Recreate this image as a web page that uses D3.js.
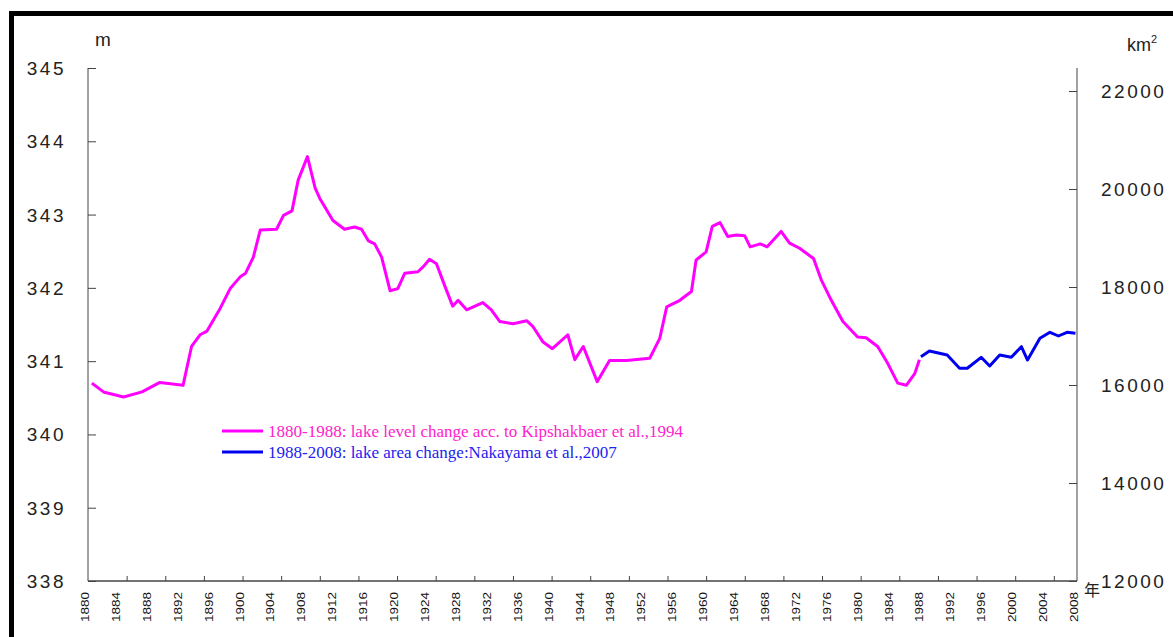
<!DOCTYPE html>
<html>
<head>
<meta charset="utf-8">
<script src="https://cdn.jsdelivr.net/npm/d3@7"></script>
<style>
  body { margin: 0; background: #fff; }
  text { font-family: "Liberation Sans", Arial, sans-serif; }
</style>
</head>
<body>
<div id="chart"></div>
<script>
// lake level (m)
const levelYears = [1880.5, 1882, 1884.6, 1887, 1889.3, 1892.3, 1893.4, 1894.5, 1895.4, 1897.1, 1898.4,
  1899.7, 1900.4, 1901.4, 1902.3, 1904.4, 1905.3, 1906.4, 1907.2, 1908.4, 1909.4, 1910, 1911.7,
  1913.2, 1914.5, 1915.4, 1916.3, 1917.1, 1918, 1919.1, 1920.1, 1921, 1922.7, 1923.4, 1924.2,
  1925.1, 1926.2, 1927.2, 1927.9, 1929, 1931.1, 1932.2, 1933.3, 1935, 1936.8, 1937.6, 1938.9,
  1940.1, 1942.1, 1943, 1944.1, 1945.9, 1947.5, 1949.7, 1952.7, 1954, 1954.9, 1956.6, 1958.1,
  1958.7, 1960, 1960.8, 1961.8, 1962.8, 1963.9, 1965, 1965.7, 1967, 1967.9, 1969.7, 1970.8,
  1972.1, 1973.9, 1974.9, 1976.2, 1977.7, 1979.6, 1980.7, 1982.2, 1983.5, 1984.8, 1985.9,
  1987, 1987.6];
const levelValues = [340.70, 340.58, 340.51, 340.58, 340.71, 340.67, 341.20, 341.36, 341.41, 341.72, 341.99,
  342.15, 342.20, 342.42, 342.79, 342.80, 342.99, 343.05, 343.47, 343.79, 343.36, 343.22, 342.92,
  342.80, 342.83, 342.80, 342.64, 342.60, 342.42, 341.96, 341.99, 342.20, 342.22, 342.29, 342.39,
  342.33, 342.02, 341.75, 341.83, 341.70, 341.80, 341.70, 341.54, 341.51, 341.55, 341.47, 341.26,
  341.17, 341.36, 341.02, 341.20, 340.72, 341.01, 341.01, 341.04, 341.31, 341.74, 341.83, 341.95,
  342.38, 342.49, 342.84, 342.89, 342.70, 342.72, 342.71, 342.56, 342.60, 342.56, 342.77, 342.61,
  342.54, 342.40, 342.11, 341.83, 341.54, 341.33, 341.32, 341.20, 340.97, 340.70, 340.67,
  340.83, 341.02];

// lake area (km2)
const areaYears = [1987.8, 1988.9, 1991.2, 1992.8, 1993.8, 1995.6, 1996.7, 1998, 1999.5, 2000.8,
  2001.6, 2003.2, 2004.5, 2005.6, 2006.7, 2007.8];
const areaValues = [16578, 16694, 16612, 16341, 16341, 16565, 16388, 16612, 16565, 16782,
  16510, 16953, 17076, 17000, 17076, 17055];

const leftTicks = [338, 339, 340, 341, 342, 343, 344, 345];
const rightTicks = [12000, 14000, 16000, 18000, 20000, 22000];
const yearLabels = d3.range(1880, 2009, 4);
const yearTicks = d3.range(1885, 2008, 5);

const legendItems = [
  { label: "1880-1988: lake level change acc. to Kipshakbaer et al.,1994", line: "#ff00ff", text: "#ff22cc" },
  { label: "1988-2008: lake area change:Nakayama et al.,2007", line: "#0000ee", text: "#2222ee" }
];

const W = 1173, H = 637;
const plot = { left: 88, right: 1077, top: 68, bottom: 581 };

const svg = d3.select("#chart").append("svg")
  .attr("width", W)
  .attr("height", H);

// frame
svg.append("path")
  .attr("d", `M11.5,${H} V13.5 H${W}`)
  .attr("fill", "none")
  .attr("stroke", "#000")
  .attr("stroke-width", 5);

const x = d3.scaleLinear().domain([1880, 2008]).range([plot.left, plot.right]);
const yL = d3.scaleLinear().domain([338, 345]).range([plot.bottom, plot.top]);
const yR = d3.scaleLinear().domain([12000, 22000]).range([plot.bottom, 91]);

const axisColor = "#444";

// left axis
const gL = svg.append("g")
  .attr("transform", `translate(${plot.left},0)`)
  .call(d3.axisRight(yL).tickValues(leftTicks).tickSize(8).tickFormat(""));
gL.select(".domain").attr("d", `M0,${plot.top}V${plot.bottom}`).attr("stroke", axisColor);
gL.selectAll(".tick line").attr("stroke", axisColor);

svg.selectAll(".ltick")
  .data(leftTicks)
  .enter()
  .append("text")
  .attr("x", 66)
  .attr("y", d => yL(d) + 7)
  .attr("text-anchor", "end")
  .style("font-size", "19px")
  .style("letter-spacing", "2.5px")
  .attr("fill", "#222")
  .text(d => d);

// right axis
const gR = svg.append("g")
  .attr("transform", `translate(${plot.right},0)`)
  .call(d3.axisLeft(yR).tickValues(rightTicks).tickSize(8).tickFormat(""));
gR.select(".domain").attr("d", `M0,${plot.top}V${plot.bottom}`).attr("stroke", axisColor);
gR.selectAll(".tick line").attr("stroke", axisColor);

svg.selectAll(".rtick")
  .data(rightTicks)
  .enter()
  .append("text")
  .attr("x", 1101)
  .attr("y", d => yR(d) + 7)
  .style("font-size", "19px")
  .style("letter-spacing", "2.5px")
  .attr("fill", "#222")
  .text(d => d);

// bottom axis: ticks every 5 years, labels every 4 years
const gB = svg.append("g")
  .attr("transform", `translate(0,${plot.bottom})`)
  .call(d3.axisTop(x).tickValues(yearTicks).tickSize(5).tickFormat(""));
gB.select(".domain").attr("d", `M${plot.left},0H${plot.right}`).attr("stroke", axisColor).attr("stroke-width", 1.5);
gB.selectAll(".tick line").attr("stroke", axisColor);

svg.selectAll(".xlabel")
  .data(yearLabels)
  .enter()
  .append("text")
  .attr("transform", d => `translate(${x(d) + 1},592) rotate(-90)`)
  .attr("text-anchor", "end")
  .attr("textLength", 30)
  .attr("lengthAdjust", "spacingAndGlyphs")
  .style("font-size", "11px")
  .attr("fill", "#111")
  .text(d => d);

// units
svg.append("text").attr("x", 95).attr("y", 46).style("font-size", "19px").attr("fill", "#222").text("m");
const km = svg.append("text").attr("x", 1127).attr("y", 51).style("font-size", "18px").attr("fill", "#222");
km.append("tspan").text("km");
km.append("tspan").attr("dy", -8).style("font-size", "11px").text("2");
svg.append("text")
  .attr("x", 1084).attr("y", 596)
  .style("font-family", "'Noto Sans CJK JP', sans-serif")
  .style("font-size", "16px")
  .attr("fill", "#222")
  .text("年");

// series
const levelLine = d3.line()
  .x((d, i) => x(levelYears[i]))
  .y(d => yL(d));
svg.append("path")
  .datum(levelValues)
  .attr("fill", "none")
  .attr("stroke", "#ff00ff")
  .attr("stroke-width", 3)
  .attr("stroke-linejoin", "round")
  .attr("d", levelLine);

const areaLine = d3.line()
  .x((d, i) => x(areaYears[i]))
  .y(d => yR(d));
svg.append("path")
  .datum(areaValues)
  .attr("fill", "none")
  .attr("stroke", "#0000ee")
  .attr("stroke-width", 3)
  .attr("stroke-linejoin", "round")
  .attr("d", areaLine);

// legend
const legend = svg.selectAll(".legend")
  .data(legendItems)
  .enter()
  .append("g")
  .attr("transform", (d, i) => `translate(222,${431 + i * 21})`);
legend.append("line")
  .attr("x1", 0).attr("x2", 41)
  .attr("stroke", d => d.line)
  .attr("stroke-width", 3);
legend.append("text")
  .attr("x", 46)
  .attr("y", 6)
  .style("font-family", "'Liberation Serif', 'Times New Roman', serif")
  .style("font-size", "17px")
  .attr("fill", d => d.text)
  .text(d => d.label);
</script>
</body>
</html>
